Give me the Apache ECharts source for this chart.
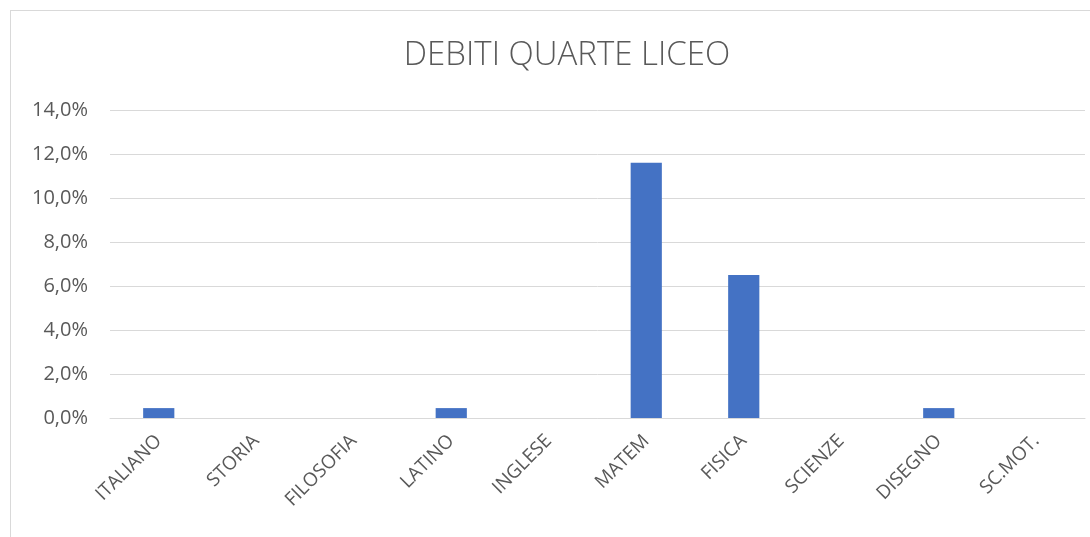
<!DOCTYPE html>
<html>
<head>
    <meta charset="utf-8">
    <title>DEBITI QUARTE LICEO</title>
    <script src="https://cdn.jsdelivr.net/npm/echarts@6/dist/echarts.min.js"></script>
    <style>
        body { margin: 0; background: #fff; overflow: hidden; }
        #frame { position: absolute; left: 10px; top: 10px; width: 1100px; height: 540px;
                 border-left: 1px solid #d9d9d9; border-top: 1px solid #d9d9d9; }
        #main { position: absolute; left: 0; top: 0; width: 1090px; height: 537px; }
    </style>
</head>
<body>
<div id="frame"></div>
<div id="main"></div>
<script type="text/javascript">
var materie = ["ITALIANO", "STORIA", "FILOSOFIA", "LATINO", "INGLESE", "MATEM", "FISICA", "SCIENZE", "DISEGNO", "SC.MOT."];
// percentuali di debiti
var debiti = [0.45, 0, 0, 0.45, 0, 11.6, 6.5, 0, 0.45, 0];

var myChart = echarts.init(document.getElementById('main'));

var option = {
    backgroundColor: 'transparent',
    animation: false,
    title: {
        text: 'DEBITI QUARTE LICEO',
        left: 562,
        top: 34,
        textAlign: 'center',
        textStyle: {
            color: '#595959',
            fontFamily: 'Open Sans',
            fontWeight: 300,
            fontSize: 33
        }
    },
    grid: {
        left: 110,
        right: 5,
        top: 110,
        bottom: 119,
        containLabel: false
    },
    xAxis: {
        type: 'category',
        data: materie,
        axisTick: { show: false },
        axisLine: { lineStyle: { color: '#d9d9d9', width: 1 } },
        axisLabel: {
            interval: 0,
            rotate: 45,
            margin: 20,
            color: '#595959',
            fontFamily: 'Open Sans',
            fontSize: 19
        }
    },
    yAxis: {
        type: 'value',
        min: 0,
        max: 14,
        interval: 2,
        axisLine: { show: false },
        axisTick: { show: false },
        splitLine: { lineStyle: { color: '#d9d9d9', width: 1 } },
        axisLabel: {
            margin: 22,
            color: '#595959',
            fontFamily: 'Open Sans',
            fontSize: 20,
            formatter: function (v) {
                return v.toFixed(1).replace('.', ',') + '%';
            }
        }
    },
    series: [{
        type: 'bar',
        data: debiti,
        barWidth: '32%',
        itemStyle: { color: '#4472c4' }
    }]
};

myChart.setOption(option);
</script>
</body>
</html>
